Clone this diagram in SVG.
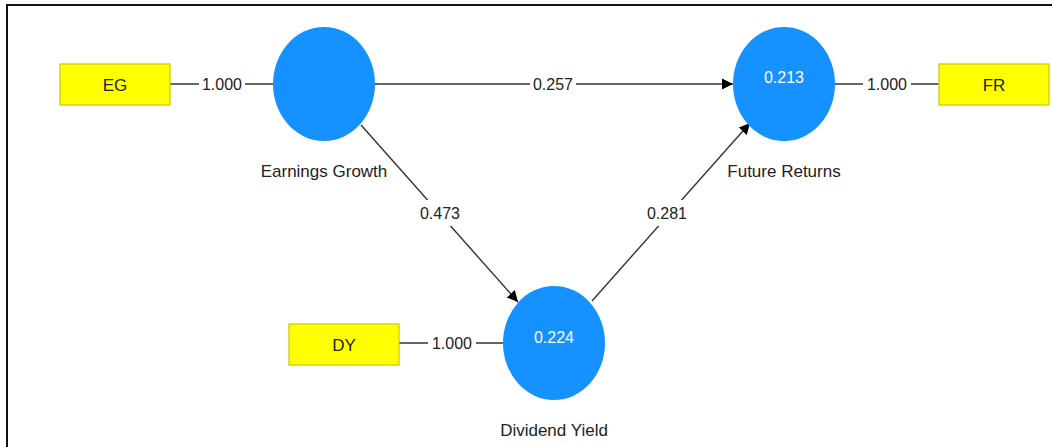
<svg xmlns="http://www.w3.org/2000/svg" width="1052" height="447" viewBox="0 0 1052 447">
<style>
.t{font-family:"Liberation Sans",Arial,sans-serif;font-size:16px;fill:#222;text-anchor:middle;dominant-baseline:central}
.n{font-size:17px}
.w{fill:#fff}
.box{fill:#ffff00;stroke:#c9c900;stroke-width:1.2}
.lv{fill:#1592ff}
.ln{stroke:#333;stroke-width:1.4;fill:none}
.bg{fill:#fff}
</style>
<defs>
<marker id="ah" viewBox="0 0 10 10" refX="10" refY="5" markerWidth="11" markerHeight="12" markerUnits="userSpaceOnUse" orient="auto">
<path d="M0,0 L10,5 L0,10 z" fill="#000"/>
</marker>
</defs>
<rect width="1052" height="447" fill="#fff"/>
<path d="M7,447 V5 H1052" stroke="#111" stroke-width="2" fill="none"/>
<g id="connectors">
<line class="ln" x1="170" y1="84" x2="273" y2="84"/>
<rect class="bg" x="199" y="75" width="46" height="18"/>
<text class="t" x="222" y="84">1.000</text>
<line class="ln" x1="835" y1="84" x2="939" y2="84"/>
<rect class="bg" x="863" y="75" width="48" height="18"/>
<text class="t" x="887" y="84">1.000</text>
<line class="ln" x1="399" y1="343" x2="503" y2="343"/>
<rect class="bg" x="428" y="334" width="48" height="18"/>
<text class="t" x="452" y="343">1.000</text>
<line class="ln" x1="375" y1="84" x2="733" y2="84" marker-end="url(#ah)"/>
<rect class="bg" x="530" y="75" width="46" height="18"/>
<text class="t" x="553" y="84">0.257</text>
<line class="ln" x1="361" y1="125" x2="518" y2="302" marker-end="url(#ah)"/>
<rect class="bg" x="416" y="200" width="48" height="26"/>
<text class="t" x="440" y="213">0.473</text>
<line class="ln" x1="592" y1="301" x2="750" y2="123" marker-end="url(#ah)"/>
<rect class="bg" x="643" y="200" width="48" height="26"/>
<text class="t" x="667" y="213">0.281</text>
</g>
<g id="EG">
<rect class="box" x="60" y="64" width="110" height="41"/>
<text class="t n" x="115" y="85">EG</text>
</g>
<g id="FR">
<rect class="box" x="939" y="64" width="110" height="41"/>
<text class="t n" x="994" y="85">FR</text>
</g>
<g id="DY">
<rect class="box" x="289" y="324" width="110" height="41"/>
<text class="t n" x="344" y="345">DY</text>
</g>
<g id="EarningsGrowth">
<ellipse class="lv" cx="324" cy="84" rx="51" ry="57"/>
<text class="t n" x="324" y="171">Earnings Growth</text>
</g>
<g id="FutureReturns">
<ellipse class="lv" cx="784" cy="84" rx="51" ry="57"/>
<text class="t w" x="784" y="77">0.213</text>
<text class="t n" x="784" y="171">Future Returns</text>
</g>
<g id="DividendYield">
<ellipse class="lv" cx="554" cy="343" rx="51" ry="57"/>
<text class="t w" x="554" y="337">0.224</text>
<text class="t n" x="554" y="430">Dividend Yield</text>
</g>
</svg>
